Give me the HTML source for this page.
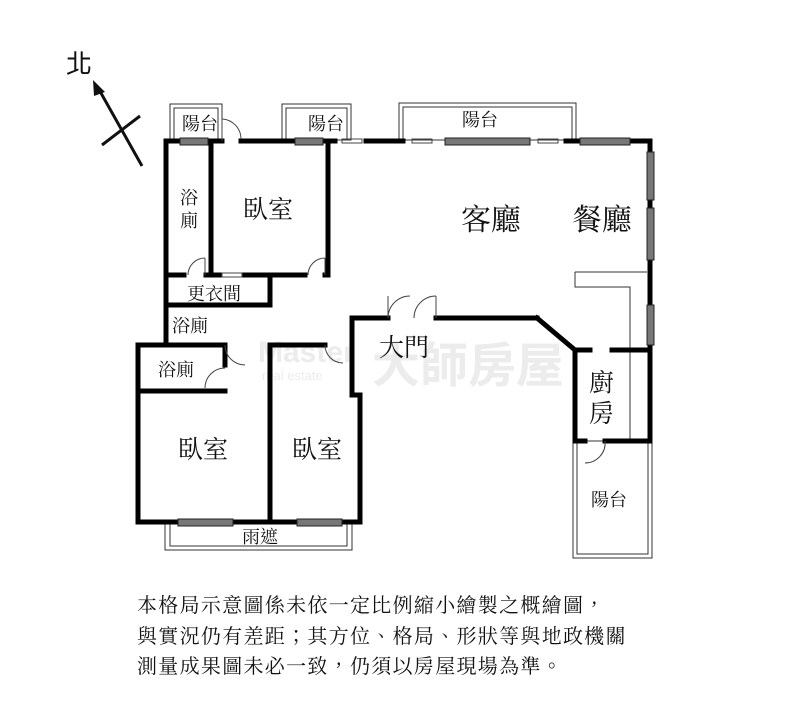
<!DOCTYPE html>
<html><head><meta charset="utf-8"><style>
body{margin:0;background:#fff;}
svg text{font-family:"Liberation Serif","Noto Serif CJK TC","Noto Serif CJK SC",serif;fill:#111;}
</style></head><body>
<svg width="800" height="722" viewBox="0 0 800 722" xmlns="http://www.w3.org/2000/svg">
<g>
<text x="258" y="362" font-size="30" font-weight="bold" style="fill:#ececec;font-family:'Liberation Sans',sans-serif">Master</text>
<text x="262" y="380" font-size="13" style="fill:#ececec;font-family:'Liberation Sans',sans-serif">real estate</text>
<text x="372" y="382" font-size="48" font-weight="bold" style="fill:#ececec;font-family:'Noto Sans CJK TC',sans-serif">大師房屋</text>
</g>
<text x="66" y="73" font-size="26" style="font-family:'Liberation Sans','Noto Sans CJK TC',sans-serif">北</text>
<line x1="97" y1="86" x2="142" y2="166" stroke="#111" stroke-width="3"/>
<polygon points="93,80 105,92 94,96" fill="#111"/>
<line x1="102" y1="145" x2="140" y2="116" stroke="#111" stroke-width="3"/>
<g fill="none" stroke="#333" stroke-width="1">
<rect x="170" y="104" width="52" height="36"/><rect x="174" y="108" width="44" height="32"/>
<rect x="282" y="104" width="69" height="36"/><rect x="286" y="108" width="61" height="32"/>
<rect x="399" y="103" width="177" height="37"/><rect x="403" y="107" width="169" height="33"/>
<rect x="165" y="522" width="187" height="28"/><rect x="170" y="522" width="177" height="24"/>
<rect x="573" y="441" width="79" height="117"/><rect x="577" y="441" width="71" height="113"/>
<polyline points="575,272 647,272"/><polyline points="575,272 575,287 630,287 630,441"/>
</g>
<g stroke="#000" stroke-width="5" fill="none" stroke-linecap="square">
<line x1="166" y1="141" x2="222" y2="141"/>
<line x1="241" y1="141" x2="292" y2="141"/>
<line x1="292" y1="141" x2="335" y2="141"/>
<line x1="366" y1="141" x2="403" y2="141"/>
<line x1="566" y1="141" x2="650" y2="141"/>
<line x1="650" y1="141" x2="650" y2="350"/>
<line x1="166" y1="141" x2="166" y2="343"/>
<line x1="211" y1="141" x2="211" y2="275"/>
<line x1="328" y1="141" x2="328" y2="275"/>
<line x1="166" y1="275" x2="184" y2="275"/>
<line x1="206" y1="275" x2="220" y2="275"/>
<line x1="245" y1="275" x2="305" y2="275"/>
<line x1="325" y1="275" x2="328" y2="275"/>
<line x1="166" y1="305" x2="270" y2="305"/>
<line x1="270" y1="275" x2="270" y2="305"/>
<line x1="138" y1="345" x2="222" y2="345"/>
<line x1="138" y1="345" x2="138" y2="522"/>
<line x1="138" y1="391" x2="225" y2="391"/>
<line x1="225" y1="345" x2="225" y2="365"/>
<line x1="138" y1="522" x2="360" y2="522"/>
<line x1="270" y1="345" x2="270" y2="522"/>
<line x1="270" y1="345" x2="325" y2="345"/>
<line x1="352" y1="318" x2="352" y2="395"/>
<line x1="352" y1="395" x2="360" y2="395"/>
<line x1="360" y1="395" x2="360" y2="522"/>
<line x1="352" y1="318" x2="388" y2="318"/>
<line x1="436" y1="318" x2="537" y2="318"/>
<line x1="537" y1="318" x2="575" y2="350"/>
<line x1="575" y1="350" x2="590" y2="350"/>
<line x1="612" y1="350" x2="650" y2="350"/>
<line x1="575" y1="350" x2="575" y2="441"/>
<line x1="575" y1="441" x2="585" y2="441"/>
<line x1="605" y1="441" x2="650" y2="441"/>
<line x1="650" y1="350" x2="650" y2="441"/>
</g>
<g fill="#777" stroke="#222" stroke-width="1">
<rect x="180" y="138" width="28" height="7"/>
<rect x="295" y="138" width="28" height="7"/>
<rect x="445" y="138" width="85" height="7"/>
<rect x="580" y="138" width="50" height="7"/>
<rect x="647" y="152" width="7" height="48"/>
<rect x="647" y="208" width="7" height="52"/>
<rect x="647" y="305" width="7" height="40"/>
<rect x="178" y="519" width="55" height="7"/>
<rect x="297" y="519" width="45" height="7"/>
</g>
<g fill="none" stroke="#444" stroke-width="1">
<path d="M222,119 A20,20 0 0 1 241,139"/><line x1="222" y1="119" x2="222" y2="141"/>
<path d="M188,275 A17,17 0 0 1 205,258"/><line x1="205" y1="258" x2="205" y2="275"/>
<path d="M308,275 A17,17 0 0 1 325,258"/><line x1="325" y1="258" x2="325" y2="275"/>
<path d="M388,318 A22,22 0 0 1 410,296"/><line x1="388" y1="296" x2="388" y2="318"/>
<path d="M414,318 A22,22 0 0 1 436,296" /><line x1="436" y1="296" x2="436" y2="318"/>
<path d="M205,388 A20,20 0 0 1 225,368"/>
<path d="M225,345 A20,20 0 0 0 245,365"/>
<path d="M325,345 A18,18 0 0 0 343,363"/>
<path d="M585,463 A20,20 0 0 0 605,441"/>
<rect x="342" y="139" width="20" height="4"/>
<rect x="412" y="139" width="20" height="4"/>
<rect x="538" y="139" width="20" height="4"/>
<rect x="222" y="273" width="20" height="4"/>
</g>
<g font-size="18">
<text x="182" y="130">陽台</text>
<text x="308" y="130">陽台</text>
<text x="462" y="126">陽台</text>
<text x="180" y="204">浴</text><text x="180" y="227">廁</text>
<text x="187" y="300">更衣間</text>
<text x="172" y="332">浴廁</text>
<text x="158" y="376">浴廁</text>
<text x="242" y="543">雨遮</text>
<text x="591" y="506">陽台</text>
</g>
<g font-size="25">
<text x="243" y="218">臥室</text>
<text x="178" y="458">臥室</text>
<text x="292" y="458">臥室</text>
<text x="379" y="356">大門</text>
<text x="589" y="391">廚</text><text x="589" y="422">房</text>
</g>
<g font-size="30">
<text x="461" y="230">客廳</text>
<text x="572" y="230">餐廳</text>
</g>
<g font-size="20" style="letter-spacing:1.3px">
<text x="137" y="612">本格局示意圖係未依一定比例縮小繪製之概繪圖，</text>
<text x="137" y="643">與實況仍有差距；其方位、格局、形狀等與地政機關</text>
<text x="137" y="673">測量成果圖未必一致，仍須以房屋現場為準。</text>
</g>
</svg>
</body></html>
